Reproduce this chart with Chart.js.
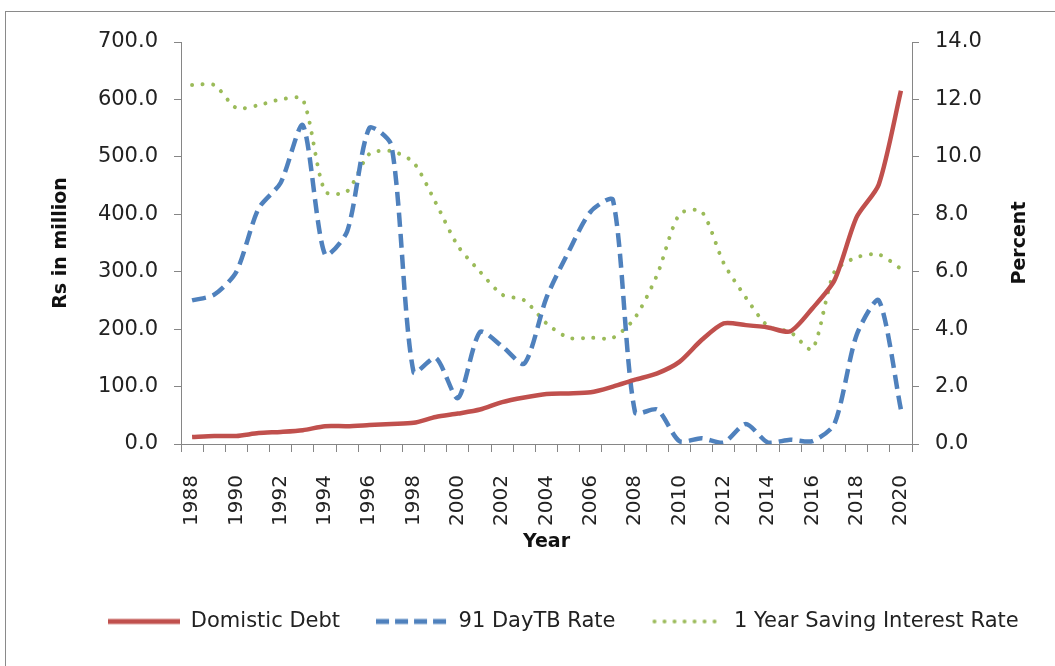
<!DOCTYPE html>
<html>
<head>
<meta charset="utf-8">
<script src="https://cdn.jsdelivr.net/npm/chart.js@4.4.1/dist/chart.umd.min.js"></script>
<style>
html, body { margin: 0; padding: 0; background: #fff; overflow: hidden; }
#frame { position: absolute; left: 5px; top: 11px; width: 1100px; height: 700px; border: 1px solid #8a8a8a; }
#wrap { position: absolute; left: 0; top: 0; width: 1055px; height: 666px; }
</style>
</head>
<body>
<div id="frame"></div>
<div id="wrap"><canvas id="debt_chart" width="1055" height="666"></canvas></div>
<script>
// years on the x axis
const years = ['1988','1989','1990','1991','1992','1993','1994','1995','1996','1997','1998',
    '1999','2000','2001','2002','2003','2004','2005','2006','2007','2008','2009','2010',
    '2011','2012','2013','2014','2015','2016','2017','2018','2019','2020'];

// Rs in million (left axis)
const domesticDebt = [12, 14, 14, 19, 21, 24, 31, 31, 33, 35, 37, 47, 53, 60, 73, 81, 87,
    88, 90, 100, 112, 123, 143, 181, 210, 207, 203, 196, 236, 285, 395, 452, 615];

// percent (right axis)
const tbRate = [5.0, 5.2, 6.0, 8.2, 9.1, 11.1, 6.6, 7.4, 11.0, 10.4, 2.5, 3.0, 1.6, 3.9, 3.4,
    2.8, 5.1, 6.7, 8.1, 8.5, 1.1, 1.2, 0.1, 0.2, 0.05, 0.7, 0.05, 0.15, 0.1, 0.7, 3.8, 5.0, 1.2];
const savingRate = [12.5, 12.5, 11.7, 11.8, 12.0, 12.0, 8.8, 8.8, 10.1, 10.2, 9.8, 8.4, 6.9,
    6.0, 5.2, 5.0, 4.2, 3.7, 3.7, 3.7, 4.4, 5.9, 8.0, 8.1, 6.3, 5.1, 4.1, 3.9, 3.3, 6.0, 6.5, 6.6, 6.1];

const RED = '#C0504D';
const BLUE = '#4F81BD';
const GREEN = '#9BBB59';
const AXIS = '#868686';
const FONT = 'DejaVu Sans';

// little line samples for the legend
function legendSample(color, width, dash, cap) {
    const c = document.createElement('canvas');
    c.width = 72;
    c.height = 10;
    const g = c.getContext('2d');
    g.strokeStyle = color;
    g.lineWidth = width;
    g.lineCap = cap;
    g.setLineDash(dash);
    g.beginPath();
    g.moveTo(cap === 'round' ? 3 : 0, 5);
    g.lineTo(72, 5);
    g.stroke();
    return c;
}
const samples = [
    legendSample(RED, 5, [], 'butt'),
    legendSample(BLUE, 5, [13, 6], 'butt'),
    legendSample(GREEN, 4, [0.01, 10], 'round')
];

// move legend a bit right like in the original
const legendShift = {
    id: 'legendShift',
    afterLayout(chart) {
        chart.legend.left += 28;
        chart.legend.right += 28;
    }
};

// right axis title reads bottom-to-top
const rightTitle = {
    id: 'rightTitle',
    afterDraw(chart) {
        const s = chart.scales.y1;
        const ctx = chart.ctx;
        ctx.save();
        ctx.translate(s.right - 11, (chart.chartArea.top + chart.chartArea.bottom) / 2);
        ctx.rotate(-Math.PI / 2);
        ctx.font = 'bold 19px ' + FONT;
        ctx.fillStyle = '#111';
        ctx.textAlign = 'center';
        ctx.textBaseline = 'middle';
        ctx.fillText('Percent', 0, 0);
        ctx.restore();
    }
};

function initChart() {
    const ctx = document.getElementById('debt_chart').getContext('2d');

    new Chart(ctx, {
        type: 'line',
        data: {
            labels: years,
            datasets: [
                {
                    label: 'Domistic Debt',
                    data: domesticDebt,
                    yAxisID: 'y',
                    borderColor: RED,
                    backgroundColor: RED,
                    borderWidth: 4.5,
                    pointRadius: 0,
                    tension: 0.25
                },
                {
                    label: '91 DayTB Rate',
                    data: tbRate,
                    yAxisID: 'y1',
                    borderColor: BLUE,
                    backgroundColor: BLUE,
                    borderWidth: 4.5,
                    borderDash: [14, 7],
                    pointRadius: 0,
                    tension: 0.25
                },
                {
                    label: '1 Year Saving Interest Rate',
                    data: savingRate,
                    yAxisID: 'y1',
                    borderColor: GREEN,
                    backgroundColor: GREEN,
                    borderWidth: 4,
                    borderDash: [0.01, 10.5],
                    borderCapStyle: 'round',
                    pointRadius: 0,
                    tension: 0.25
                }
            ]
        },
        options: {
            responsive: false,
            animation: false,
            devicePixelRatio: 1,
            layout: { padding: { left: 40, right: 24, top: 42, bottom: 24 } },
            scales: {
                x: {
                    offset: true,
                    afterFit: (scale) => { scale.height = 131; },
                    grid: { offset: true, drawOnChartArea: false, tickLength: 8, color: AXIS },
                    border: { color: AXIS },
                    ticks: {
                        autoSkip: false,
                        minRotation: 90,
                        maxRotation: 90,
                        padding: 23,
                        color: '#222',
                        font: { family: FONT, size: 20 },
                        callback: function (val, idx) {
                            return idx % 2 === 0 ? this.getLabelForValue(val) : '';
                        }
                    },
                    title: {
                        display: true,
                        text: 'Year',
                        color: '#111',
                        padding: { top: 0, bottom: 22 },
                        font: { family: FONT, size: 19, weight: 'bold' }
                    }
                },
                y: {
                    position: 'left',
                    min: 0,
                    max: 700,
                    afterFit: (scale) => { scale.width = 141; },
                    grid: { drawOnChartArea: false, tickLength: 7, color: AXIS },
                    border: { color: AXIS },
                    ticks: {
                        stepSize: 100,
                        padding: 16,
                        color: '#222',
                        font: { family: FONT, size: 21 },
                        callback: (v) => v.toFixed(1)
                    },
                    title: {
                        display: true,
                        text: 'Rs in million',
                        color: '#111',
                        padding: { top: 10, bottom: 0 },
                        font: { family: FONT, size: 19, weight: 'bold' }
                    }
                },
                y1: {
                    position: 'right',
                    min: 0,
                    max: 14,
                    afterFit: (scale) => { scale.width = 119; },
                    grid: { drawOnChartArea: false, tickLength: 7, color: AXIS },
                    border: { color: AXIS },
                    ticks: {
                        stepSize: 2,
                        padding: 16,
                        color: '#222',
                        font: { family: FONT, size: 21 },
                        callback: (v) => v.toFixed(1)
                    }
                }
            },
            plugins: {
                tooltip: { enabled: false },
                legend: {
                    position: 'bottom',
                    labels: {
                        usePointStyle: true,
                        pointStyleWidth: 72,
                        boxHeight: 10,
                        padding: 36,
                        color: '#222',
                        font: { family: FONT, size: 21 },
                        generateLabels: (chart) => {
                            const items = Chart.defaults.plugins.legend.labels.generateLabels(chart);
                            items.forEach((it, i) => { it.pointStyle = samples[i]; });
                            return items;
                        }
                    }
                }
            }
        },
        plugins: [legendShift, rightTitle]
    });
}

document.addEventListener('DOMContentLoaded', initChart);
</script>
</body>
</html>
